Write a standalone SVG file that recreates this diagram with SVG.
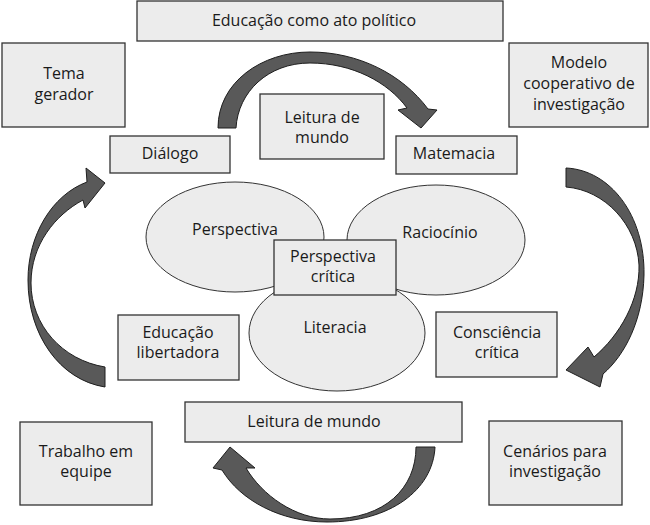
<svg xmlns="http://www.w3.org/2000/svg" width="650" height="525" viewBox="0 0 650 525">
<style>
.box{fill:#ececec;stroke:#333;stroke-width:1.3}
.ell{fill:#ececec;stroke:#333;stroke-width:1}
.arr{fill:#595959;stroke:#1e1e1e;stroke-width:1;stroke-linejoin:miter}
text{font-family:"Open Sans","Noto Sans","DejaVu Sans",sans-serif;font-size:16px;fill:#1a1a1a;text-anchor:middle}
</style>
<rect width="650" height="525" fill="#ffffff"/>
<g id="connectors">
<path class="arr" d="M 218,128 C 218,82 262,52 310,52 C 358,52 402,74 428,109 L 437,110 L 421,128 L 398,110 L 407,108 C 388,82 352,63 310,63 C 268,63 238,92 236,128 Z"/>
<path class="arr" d="M 566,168 C 610,170 645,215 644,275 C 643,320 625,355 603,374 L 600,387 L 566,370 L 588,347 L 594,357 C 620,335 640,300 639,265 C 637,225 605,190 566,187 Z"/>
<path class="arr" d="M 105,387 C 60,380 28,335 28,280 C 28,235 52,195 87,182 L 86,168 L 105,183 L 85,208 L 83,200 C 55,215 31,245 31,283 C 31,325 62,360 105,367 Z"/>
<path class="arr" d="M 435,447 C 433,490 390,522 327,522 C 280,522 240,500 222,470 L 213,468 L 230,447 L 255,468 L 246,468 C 262,495 295,519 330,519 C 385,519 416,488 416,447 Z"/>
</g>
<g id="n-educacao-politico"><rect class="box" x="137" y="1" width="366" height="40"/><text x="314" y="26">Educação como ato político</text></g>
<g id="n-tema"><rect class="box" x="2" y="43" width="123" height="84"/><text x="64" y="79">Tema</text><text x="64" y="100">gerador</text></g>
<g id="n-modelo"><rect class="box" x="509" y="43" width="139" height="84"/><text x="579" y="68">Modelo</text><text x="579" y="89">cooperativo de</text><text x="579" y="110">investigação</text></g>
<g id="n-leitura-top"><rect class="box" x="260" y="94" width="124" height="65"/><text x="322" y="123">Leitura de</text><text x="322" y="143">mundo</text></g>
<g id="n-dialogo"><rect class="box" x="110" y="136" width="120" height="37"/><text x="170" y="159">Diálogo</text></g>
<g id="n-matemacia"><rect class="box" x="396" y="136" width="121" height="38"/><text x="454" y="159">Matemacia</text></g>
<g id="n-perspectiva"><ellipse class="ell" cx="235" cy="237" rx="89" ry="55"/><text x="235" y="235">Perspectiva</text></g>
<g id="n-raciocinio"><ellipse class="ell" cx="436" cy="240" rx="89" ry="55"/><text x="440" y="238">Raciocínio</text></g>
<g id="n-literacia"><ellipse class="ell" cx="337" cy="333" rx="88" ry="58"/><text x="335" y="333">Literacia</text></g>
<g id="n-perspectiva-critica"><rect class="box" x="274" y="240" width="122" height="55"/><text x="333" y="262">Perspectiva</text><text x="333" y="282">crítica</text></g>
<g id="n-educacao-libertadora"><rect class="box" x="118" y="315" width="121" height="65"/><text x="178" y="338">Educação</text><text x="178" y="358">libertadora</text></g>
<g id="n-consciencia"><rect class="box" x="436" y="312" width="121" height="65"/><text x="497" y="338">Consciência</text><text x="497" y="358">crítica</text></g>
<g id="n-leitura-bottom"><rect class="box" x="185" y="402" width="277" height="40"/><text x="314" y="427">Leitura de mundo</text></g>
<g id="n-trabalho"><rect class="box" x="20" y="422" width="132" height="83"/><text x="86" y="457">Trabalho em</text><text x="86" y="477">equipe</text></g>
<g id="n-cenarios"><rect class="box" x="489" y="421" width="133" height="84"/><text x="555" y="457">Cenários para</text><text x="555" y="477">investigação</text></g>
</svg>
